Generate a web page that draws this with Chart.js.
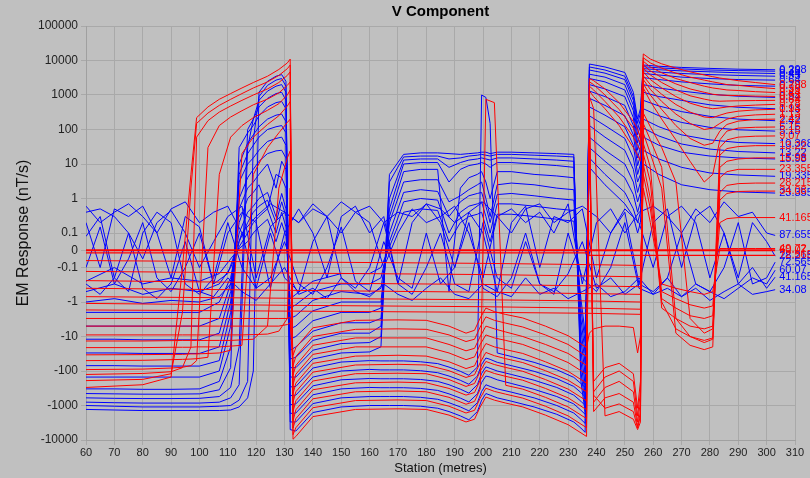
<!DOCTYPE html>
<html><head><meta charset="utf-8">
<script src="https://cdn.jsdelivr.net/npm/chart.js@4.4.1/dist/chart.umd.min.js"></script>
<style>html,body{margin:0;padding:0;background:#c0c0c0;}canvas{display:block;}</style>
</head><body>
<canvas id="c" width="810" height="478"></canvas>
<script>
// ---------- axis ticks ----------
const yTickValues = [-10000, -1000, -100, -10, -1, -0.1, 0, 0.1, 1, 10, 100, 1000, 10000, 100000];
const xMin = 60, xMax = 310, xStep = 10;

// ---------- stations ----------
const redStations = [60, 80, 90, 94, 97, 99, 103, 107, 111, 115, 119, 124, 128, 131, 132, 133, 134, 140, 155, 170, 180, 188, 194, 197, 199, 201, 204, 208, 214, 222, 230, 236.5, 237.5, 239, 243, 248, 253, 254.5, 255.5, 256.5, 259, 263, 268, 273, 278, 281, 283.5, 286, 290, 296, 303];
const redLateStations = [60, 133, 200, 236.5, 255.5, 256.5, 259, 263, 268, 273, 278, 281, 283.5, 286, 290, 296, 303];
const redZeroStations = [60, 236.5, 237.5, 303];
const blueStations = [60, 70, 80, 90, 100, 107, 111, 114, 117, 119, 121, 124, 127, 129, 130.5, 132, 134, 140, 150, 160, 164, 167, 172, 178, 184, 188, 192, 195, 198, 199.5, 201, 202.5, 205, 210, 218, 226, 232, 234.5, 236, 237.5, 243, 250, 253, 254.5, 255.5, 256.5, 262, 270, 280, 290, 303];
const noiseStations = [60,65,70,75,80,85,90,95,100,105,110,115,120,125,130,135,140,145,150,155,160,165,170,175,180,185,190,195,200,205,210,215,220,225,230,235,240,245,250,255,260,265,270,275,280,285,290,295,300,303];

// ---------- red channels (nT/s) ----------
const r0 = [-300,-250,-150, -0.1,5,220,450,750,1100,1600,2300,3500,5500,8500,11000, -9500, -7900,-2100,-1300,-1250,-1300,-1900,-3000,-2500,-1100,-570,-700,-850,-1100,-1900,-3600,-7900, 3000,2600,1500,600,170,100,60, 15500,11000,8000,6000,4700,3800,3400,3100,2900,2600,2300,2000];
const r1 = [-190,-175,-120, -2,2,150,300,500,750,1100,1600,2400,3700,5800,7400, -7000, -4400,-1160,-720,-690,-720,-1050,-1650,-1380,-610,-315,-390,-470,-610,-1050,-2000,-4400, 2400,2000,1000,380,110,60,40, 12000,8500,6000,4300,3300,2700,2400,2200,2000,1900,1700,1530];
const r2 = [-126,-118,-105, -80,-20,60,180,320,480,700,1000,1500,2300,3700,4700, -4500, -2400,-640,-400,-380,-400,-580,-920,-760,-335,750,600,-260,-335,-580,-1100,-2400, 1800,1400,650,230,60,35,25, 9500,6500,4400,3000,2300,1800,1600,1500,1400,1350,1250,1180];
const r3 = [-91,-88,-82, -78,-70,-50,30,130,230,350,520,760,1150,1900,2400, -2800, -1330,-350,-220,-210,-220,-320,-500,-420,-185,-96,-118,-143,-185,-320,-600,-1330, 1300,900,400,130,30,18,12, 7500,5000,3200,2100,1500,1200,1050,1000,980,960,930,910];
const r4 = [-50,-49,-47, -46,-45,-44,-40,5,60,130,220,360,560,1000,1400, -1500, -730,-195,-120,-116,-120,-177,-280,-230,-102,-53,-65,-79,-102,-177,-335,-730, 900,400,-2000,-1500,-2500,-5000,-3000, 6000,3800,2300,1400,950,760,680,660,670,680,690,700];
const r5 = [-34,-33.5,-33, -33,-32,-32,-31,-30,-25,20,60,140,250,480,650, -800, -400,-108,-67,-64,-67,-98,-154,-128,-57,-29,-36,-44,-57,-98,-185,-400, 600,-500,-1200,-900,-1500,-4500,-2000, 4700,2800,1600,900,580,440,400,420,450,480,510,535];
const r6 = [-21,-21,-20.5, -20.5,-20.5,-20,-20,-20,-19,-18,5,30,80,160,200, -450, -225,-60,-37,-35,-37,-54,-85,-71,-31,-16,-20,-24,-31,-54,-102,-225, 400,-1500,-600,-450,-800,-4000,-1500, 3600,2000,1050,530,320,230,220,260,300,340,370,385];
const r7 = [-13.5,-13.5,-13.2, -13,-13,-13,-13,-13,-13,-12.5,-12,-5,2,15,24, -250, -124,-33,-20,-20,-20,-30,-47,-39,-17,-9,-11,-13,-17,-30,-57,-124, 250,-800,-300,-200,-400,-3000,-800, 2800,1450,650,280,150,100,110,150,200,240,265,277];
const r8 = [-9,-9,-9, -9,-9,-9,-9,-9,-9,-9,-8.8,-8.5,-7,-3,2, -130, -69,-18,-11,-11,-11,-17,-26,-22,-10,-5,-6,-7.4,-10,-17,-31,-69, 150,-400,-150,-100,-200,-2000,-400, 2100,1000,380,130,55,35,40,90,140,175,195,200];
const r9 = [-5,-5,-5, -5,-5,-5,-5,-5,-5,-5,-5,-5,-5,-4.5,-4, -70, -38,-10,-6.2,-6,-6.2,-9,-14,-12,-5.3,-2.7,-3.4,-4.1,-5.3,-9,-17,-38, 80,-200,-80,-60,-120,-1200,-200, 1600,650,200,50,12,3,5,50,90,110,116,118];
const r10 = [-3,-3,-3, -3,-3,-3,-3,-3,-3,-3,-3,-3,-3,-3,-2.8, -35, -21,-5.6,-3.4,-3.3,-3.4,-5,-8,-6.6,-2.9,-1.5,-1.9,-2.3,-2.9,-5,-9.5,-21, -8,-6,-5,-5,-5.5,-30,-10, 300,120,30,3,-3,-8,-6,30,50,60,64,65];
const r11 = [-1.7,-1.84,-1.99,-2.12,-2.28, 150,50,8,-3,-10,-15,-12,18,28,32,34,34];
const r12 = [-1.1,-1.25,-1.37,-1.5,-1.62, 80,20,2,-8,-18,-24,-20,8,12,14,15,15];
const r13 = [-0.7,-0.78,-0.86,-0.93,-1.0, 40,8,-1,-6,-10,-13,-11,4,6,7,7,7];
const r14 = [-0.4,-0.46,-0.52,-0.57,-0.6, 20,3,-1.5,-3,-5,-6,-5,1.5,2.4,2.7,2.8,2.8];
const r15 = [-0.24,-0.28,-0.31,-0.34,-0.36, 10,1,-0.8,-1.5,-2.5,-3,-2.5,0.9,1.4,1.6,1.64,1.64];
const r16 = [-0.13,-0.145,-0.16,-0.176,-0.186, 5,0.5,-0.5,-0.8,-1.2,-1.5,-1.3,0.2,0.26,0.28,0.28,0.28];
const r17 = [-0.06,-0.068,-0.076,-0.083,-0.088, 2,0.2,-0.3,-0.4,-0.5,-0.6,-0.5,0.01,0.01,0.01,0.01,0.01];
const rz0 = [0, 0, 0, 0];
const rz1 = [-0.015, -0.015, -0.03, -0.03];
const redLabels = ['0.298','0.36','0.44','0.53','0.64','0.78','0.94','1.13','2.42','5.15','9.07','13.22','15.98','23.355','28.215','34.08','41.165','49.72','60.07','72.565'];

// ---------- blue channels (nT/s) ----------
const b0 = [-1300,-1350,-1400,-1400,-1400, -1400,-1350,-1100,-600,-100, 1200,2500,3500,3900,2500, -5000,-5500,-1600,-1100,-1000, -1000,-1000,-1000,-1050,-1200,-1500,-2000,-2600,-1500, -700,-450,-500,-600, -750,-1100,-1800,-3000,-4500,-6000, 7900,6500,4500,1200,200,400, 7400,6800,6300,5900,5600,5400];
const b1 = [-1000,-1050,-1100,-1100,-1100, -1050,-1000,-700,-200,50, 900,1900,2700,3000,1800, -3000,-3000,-880,-600,-550, -550,-550,-550,-580,-660,-830,-1100,-1430,-830, -390,-250,-280,-330, -410,-600,-1000,-1650,-2500,-3300, 6500,5300,3500,900,150,300, 6600,6100,5700,5300,5100,4900];
const b2 = [-800,-830,-850,-850,-850, -800,-600,-250,30,200, 700,1300,1800,2000,1200, -1700,-1650,-490,-330,-300, -305,-305,-305,-320,-365,-460,-610,-790,-460, -215,-140,-150,-180, -230,-340,-550,-900,-1370,-1800, 5300,4300,2800,700,100,200, 5800,5400,5000,4700,4400,4200];
const b3 = [-600,-620,-630,-630,-620, -550,-300,-20,100,200, 450,800,1100,1200,700, -950,-900,-270,-180,-165, -168,-168,-168,-176,-200,-250,-336,-437,-250, -118,-76,-84,-100, -126,-185,-300,-500,-750,-1000, 4000,3300,2000,500,70,130, 5000,4600,4200,3900,3700,3500];
const b4 = [-450,-460,-470,-470,-460, -350,-80,30,80,130, 250,450,600,650,400, -520,-500,-150,-100,-90, -93,-93,-93,-98,-112,-140,-186,-242,-140, -65,-42,-46,-56, -70,-102,-167,-280,-420,-560, 3000,2400,1400,350,40,80, 4200,3800,3300,3000,2800,2700];
const b5 = [-330,-330,-340,-340,-330, -200,-20,10,40,70, 120,200,260,280,170, -290,-280,-82,-55,-50, -51,-51,-51,-54,-61,-77,-102,-133,-77, 1000,850,150,-30, -38,-56,-92,-153,-230,-300, 2000,1500,900,220,25,50, 3200,2800,2400,2100,1900,1800];
const b6 = [-150,-150,-150,-150,-150, -100,-5,5,20,35, 60,100,120,130,80, -150,-150,-45,-30,-28, -20,5,19,21,21,20,19,20,21, 22,22,20,22, 22,21,20,19,-200,-1500, 1300,900,500,130,15,30, 2000,1600,1300,1050,920,850];
const b7 = [-70,-70,-72,-72,-72, -50,-2,3,10,15, 25,45,55,60,35, -80,-80,-25,-16,-15, -10,3,16,17,17,14,15,17,18, 19,18,17,19, 19,18,17,16,-100,-900, 800,500,250,70,9,18, 1200,900,700,520,440,400];
const b8 = [-30,-30,-31,-31,-31, -20,-1,1,4,7, 12,20,24,25,15, -45,-40,-13,-8,-8, -5,1,13,14,14,8,11,13,14, 15,14,13,15, 15,14,13,12,-50,-500, 450,260,120,35,5,10, 700,480,330,240,200,180];
const b9 = [-12,-12,-12.5,-12.5,-12.5, -8,-0.5,0.5,2,3, 5,10,2,12,7, -25,-20,-7,-4,-4, -3,0.5,10,11,11,3,7,9,10, 11,10,8,11, 11,10,9,8,-25,-250, 250,130,55,15,3,5, 400,250,160,115,98,90];
const b10 = [-5,-5,-5,-5,-5, -3,-0.3,0.2,1,1.5, 2.5,0.5,5,4,2, -12,-10,-3.5,-2,-2, -1.5,0.3,6,7,7,-0.5,2,4,5, 6,3,1,6, 6,5,4.5,4,-12,-120, 130,60,25,7,1.5,3, 200,120,70,50,42,39];
const b11 = [-2,-2,-2,-2,-2, -1,-0.2,0.1,0.4,0.6, 1,1.5,0.3,1.4,0.5, -6,-5,-1.8,-1,-1, -1,0.2,3,3.5,3.5,0.8,1.2,1.8,2.5, 3,1,0.3,2.5, 2.8,2.5,2,1.8,-6,-60, 60,25,10,3,0.8,1.5, 110,65,38,27,23,21];
const b12 = [-1,-0.8,-1.1,-0.9,-1, -0.7,-0.3,0.05,0.2,0.4, 0.6,0.9,0.2,0.8,0.3, -3,-2.5,-0.9,-0.5,-0.6, -0.4,0.1,1.5,1.8,1.6,0.3,0.8,1.2,1.4, 1.5,0.6,0.2,1.3, 1.4,1.2,1,0.9,-3,-30, 30,12,4,1.3,0.4,0.8, 60,35,22,17,15,14];
const b13 = [-0.5,-0.3,-0.6,-0.4,-0.5, -0.3,-0.1,0.02,0.1,0.2, 0.3,0.5,0.1,0.4,0.15, -1.5,-1.2,-0.5,-0.3,-0.3, -0.2,0.05,0.8,1,0.9,0.1,0.4,0.6,0.7, 0.8,0.3,0.1,0.7, 0.7,0.6,0.5,0.45,-1.5,-15, 15,5,1.5,0.5,0.2,0.4, 25,14,8,5.5,4.8,4.4];
const b14 = [-0.25,-0.1,-0.3,-0.2,-0.25, -0.15,-0.05,0.01,0.05,0.1, 0.15,0.25,0.05,0.2,0.08, -0.8,-0.6,-0.25,-0.15,-0.15, -0.1,0.02,0.4,0.5,0.45,0.05,0.2,0.3,0.35, 0.4,0.15,0.05,0.35, 0.35,0.3,0.25,0.22,-0.8,-8, 8,2.5,0.7,0.3,0.1,0.2, 10,5,2.5,1.8,1.55,1.44];
const n0 = [0.4,0.5,0.3,0.1,-0.05,0.2,0.45,0.1,-0.1,0.05, 0.3,0.6,-0.2,0.15,0.4,0.2,0.7,0.3,0.1,0.4, 0.2,-0.1,0.1,0.5,0.2,0.3,0.6,0.1,-0.2,0.3, 0.5,0.2,0.4,0.1,0.7,-0.3,0.2,0.5,0.1,0.4, 0.6,0.3,0.1,0.5,0.2,0.8,0.3,0.4,0.1,0.086];
const n1 = [0.2,-0.1,0.5,0.3,0.6,0.1,-0.2,0.3,0.15,-0.3, 0.1,0.4,0.2,-0.4,0.1,0.5,0.1,-0.2,0.3,0.6, 0.1,0.3,-0.3,0.2,0.7,0.2,-0.1,0.4,0.1,-0.5, 0.2,0.6,-0.1,0.3,0.2,0.5,-0.2,0.1,0.4,-0.3, 0.2,0.5,-0.1,0.3,0.6,0.1,-0.2,0.2,0.05,-0.034];
const n2 = [0.08,0.3,-0.2,-0.5,0.1,0.4,0.2,-0.3,-0.6,-0.2, 0.2,-0.1,-0.4,0.1,-0.2,-0.5,0.05,0.3,-0.2,-0.4, -0.1,0.2,-0.3,-0.6,-0.1,0.1,-0.3,-0.5,0.2,-0.2, -0.4,0.05,-0.3,-0.6,0.1,-0.2,-0.5,-0.1,0.2,-0.4, -0.6,-0.2,0.1,-0.3,-0.5,-0.1,0.2,-0.3,-0.2,-0.069];
const n3 = [-0.3,-0.6,-0.2,0.1,-0.4,-0.8,-0.3,0.05,-0.5,-0.7, -0.2,-0.5,-0.9,-0.3,-0.1,-0.6,-0.4,-0.8,-0.2,-0.5, -0.7,-0.3,-0.6,-0.9,-0.4,-0.2,-0.6,-0.8,-0.3,-0.5, -0.7,-0.2,-0.6,-0.4,-0.8,-0.5,-0.3,-0.7,-0.5,-0.2, -0.6,-0.4,-0.7,-0.3,-0.5,-0.8,-0.4,-0.2,-0.3,-0.12];
const n4 = [0.6,0.2,0.4,0.7,0.3,0.1,0.5,0.8,0.2,0.4, 0.6,0.1,0.3,0.7,0.4,0.2,0.5,0.3,0.8,0.4, 0.6,0.2,0.4,0.3,0.7,0.5,0.2,0.4,0.8,0.3, 0.1,0.5,0.7,0.2,0.4,0.6,0.3,0.1,0.5,0.2, -0.1,0.3,0.6,0.2,-0.2,0.1,-0.3,-0.1,-0.4,-0.19];
const n5 = [-0.1,0.15,-0.3,-0.05,0.2,-0.2,-0.5,-0.1,0.1,-0.3, -0.15,0.1,-0.4,-0.2,0.05,-0.3,-0.6,-0.1,0.15,-0.25, -0.5,0.05,-0.2,-0.4,0.1,-0.3,-0.1,0.2,-0.4,-0.7, -0.2,0.1,-0.3,-0.5,-0.15,0.05,-0.4,-0.2,-0.6,-0.3, -0.5,-0.2,-0.7,-0.4,-0.9,-0.5,-0.3,-0.6,-0.5,-0.44];
const blueLabels = ['0.298','0.36','0.44','0.53','0.64','0.78','0.94','1.13','2.42','5.15','10.368','13.22','15.98','19.335','23.355'];
const noiseLabels = ['87.655','28.215','72.565','60.07','41.165','34.08'];

// ---------- styles ----------
const RED = 'rgb(255,0,0)', BLUE = 'rgb(0,0,255)';
const FONT = '"Liberation Sans", Arial, Helvetica, sans-serif';

// ---------- symmetric log scale ----------
const Lin = Chart.LinearScale || Chart.registry.getScale('linear');
function symT(v){ const a = Math.abs(v); return a <= 0.1 ? v * 5 : Math.sign(v) * (Math.log10(a) + 1.5); }
function symInv(t){ const a = Math.abs(t); return a <= 0.5 ? t / 5 : Math.sign(t) * Math.pow(10, a - 1.5); }
class SymLogScale extends Lin {
  buildTicks(){ return yTickValues.map(v => ({value: v})); }
  configure(){ super.configure(); this._t0 = symT(this.min); this._t1 = symT(this.max); }
  getPixelForValue(v){ return this.getPixelForDecimal((symT(v) - this._t0) / (this._t1 - this._t0)); }
  getValueForPixel(p){ return symInv(this._t0 + this.getDecimalForPixel(p) * (this._t1 - this._t0)); }
}
SymLogScale.id = 'symlog';
Chart.register(SymLogScale);

// ---------- datasets ----------
const series = [];
function add(stations, values, label, color, width){ series.push({stations, values, label, color, width: width || 1}); }
add(redZeroStations, rz0, redLabels[18], RED, 2.2);
add(redZeroStations, rz1, redLabels[19], RED, 1.3);
[r0,r1,r2,r3,r4,r5,r6,r7,r8,r9,r10].forEach((v,i)=>add(redStations, v, redLabels[i], RED));
[r11,r12,r13,r14,r15,r16,r17].forEach((v,i)=>add(redLateStations, v, redLabels[11+i], RED));
[b0,b1,b2,b3,b4,b5,b6,b7,b8,b9,b10,b11,b12,b13,b14].forEach((v,i)=>add(blueStations, v, blueLabels[i], BLUE));
[n0,n1,n2,n3,n4,n5].forEach((v,i)=>add(noiseStations, v, noiseLabels[i], BLUE));

const datasets = series.map(s => ({
  label: s.label,
  data: s.stations.map((x, i) => ({x: x, y: s.values[i]})),
  borderColor: s.color, backgroundColor: s.color,
  borderWidth: s.width, pointRadius: 0, fill: false, tension: 0
}));

const endLabels = {
  id: 'endLabels',
  afterDatasetsDraw(chart){
    const ctx = chart.ctx;
    ctx.save();
    ctx.font = '11px ' + FONT;
    ctx.textBaseline = 'middle'; ctx.textAlign = 'left';
    for (let i = chart.data.datasets.length - 1; i >= 0; i--) {
      const ds = chart.data.datasets[i];
      const meta = chart.getDatasetMeta(i);
      const pt = meta.data[meta.data.length - 1];
      if (!pt) continue;
      ctx.fillStyle = ds.borderColor;
      ctx.fillText(ds.label, pt.x + 4, pt.y);
    }
    ctx.restore();
  }
};

Chart.defaults.font.family = FONT;
new Chart(document.getElementById('c'), {
  type: 'line',
  data: {datasets},
  options: {
    responsive: false, animation: false, events: [],
    layout: {padding: {left: 0, right: 15, top: 0, bottom: 0}},
    plugins: {
      legend: {display: false}, tooltip: {enabled: false},
      title: {display: true, fullSize: false, text: 'V Component', color: '#000', font: {size: 15, weight: 'bold'}, padding: {top: 3, bottom: 5}}
    },
    scales: {
      x: {
        type: 'linear', min: xMin, max: xMax,
        ticks: {stepSize: xStep, autoSkip: false, maxRotation: 0, color: '#222', font: {size: 11}, padding: 1},
        grid: {color: '#a9a9a9', tickLength: 5},
        border: {color: '#a0a0a0'},
        title: {display: true, text: 'Station (metres)', color: '#111', font: {size: 13}, padding: {top: 0, bottom: 2}},
        afterFit(s){ s.height = 38; }
      },
      y: {
        type: 'symlog', min: -10000, max: 100000,
        ticks: {autoSkip: false, color: '#222', font: {size: 12}, padding: 3, callback: v => String(v)},
        grid: {color: '#a9a9a9', tickLength: 5},
        border: {color: '#a0a0a0'},
        title: {display: true, text: 'EM Response (nT/s)', color: '#111', font: {size: 16}, padding: {top: 14, bottom: 0}},
        afterFit(s){ s.width = 86; }
      }
    }
  },
  plugins: [endLabels]
});
</script>
</body></html>
